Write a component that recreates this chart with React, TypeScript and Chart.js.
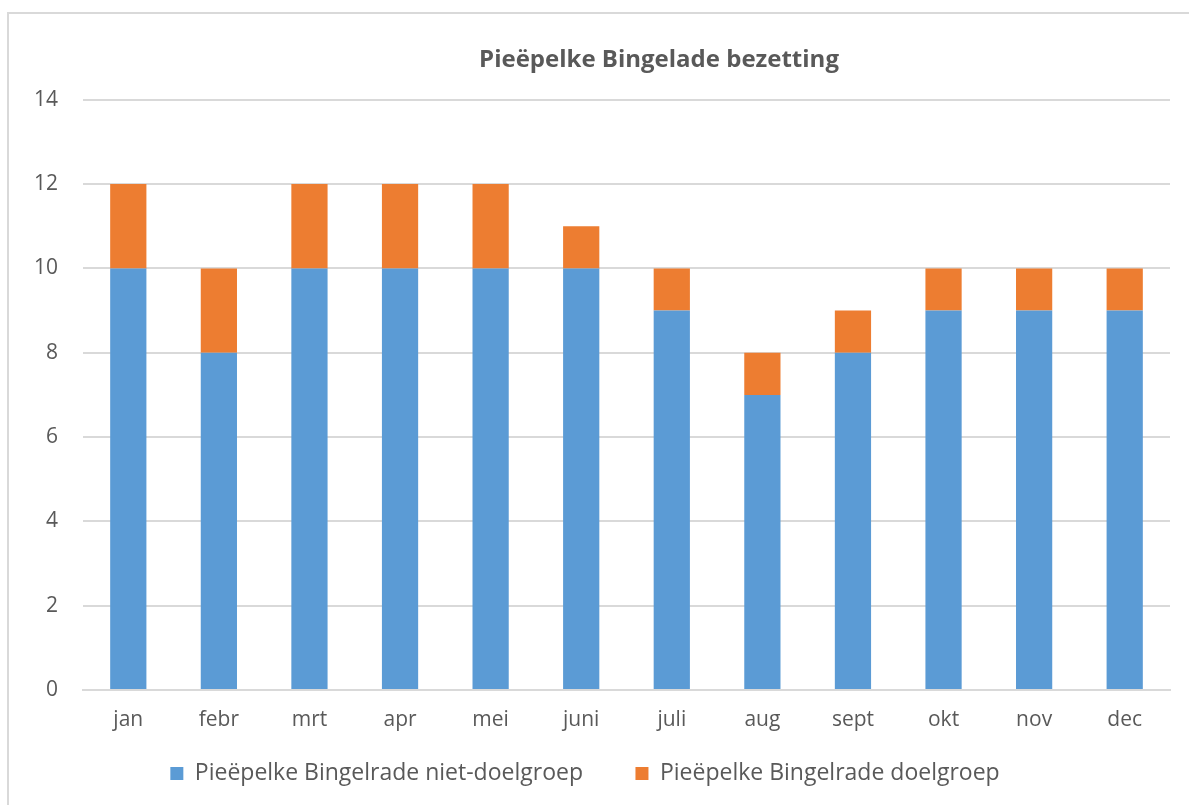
import React, { useEffect, useRef } from "react";
import { Chart, registerables } from "chart.js";

Chart.register(...registerables);

const categories = ["jan", "febr", "mrt", "apr", "mei", "juni", "juli", "aug", "sept", "okt", "nov", "dec"];
const nietDoelgroep = [10, 8, 10, 10, 10, 10, 9, 7, 8, 9, 9, 9];
const doelgroep = [2, 2, 2, 2, 2, 1, 1, 1, 1, 1, 1, 1];
const yTicks = [0, 2, 4, 6, 8, 10, 12, 14];

const W = 1311;
const H = 805;
const TITLE_CENTER = 659;

const titleShift = {
  id: "titleShift",
  afterLayout(chart: any) {
    const t = chart.titleBlock;
    if (!t) return;
    const w = t.right - t.left;
    t.left = TITLE_CENTER - w / 2;
    t.right = TITLE_CENTER + w / 2;
  },
};

export default function App() {
  const ref = useRef<HTMLCanvasElement | null>(null);
  useEffect(() => {
    if (!ref.current) return;
    const grey = "#595959";
    const chart = new Chart(ref.current, {
      type: "bar",
      data: {
        labels: categories,
        datasets: [
          {
            label: "Pieëpelke Bingelrade niet-doelgroep",
            data: nietDoelgroep,
            backgroundColor: "#5B9BD5",
            barPercentage: 0.4,
            categoryPercentage: 1,
          },
          {
            label: "Pieëpelke Bingelrade doelgroep",
            data: doelgroep,
            backgroundColor: "#ED7D31",
            barPercentage: 0.4,
            categoryPercentage: 1,
          },
        ],
      },
      plugins: [titleShift],
      options: {
        animation: false,
        responsive: false,
        maintainAspectRatio: false,
        layout: { padding: { top: 46, left: 0, right: W - 1170, bottom: 10 } },
        plugins: {
          title: {
            display: true,
            text: "Pieëpelke Bingelade bezetting",
            color: grey,
            font: { family: "'Open Sans'", size: 24, weight: "bold" },
            padding: { top: 0, bottom: 25 },
          },
          legend: {
            position: "bottom",
            labels: {
              color: grey,
              font: { family: "'Open Sans'", size: 23 },
              boxWidth: 13,
              boxHeight: 13,
              padding: 14,
              generateLabels: (c: any) => {
                const base = Chart.defaults.plugins.legend.labels.generateLabels(c);
                const out: any[] = [];
                base.forEach((item: any, i: number) => {
                  item.lineWidth = 0;
                  item.strokeStyle = "rgba(0,0,0,0)";
                  if (i > 0) {
                    out.push({
                      text: "",
                      fillStyle: "rgba(0,0,0,0)",
                      strokeStyle: "rgba(0,0,0,0)",
                      lineWidth: 0,
                      hidden: false,
                    });
                  }
                  out.push(item);
                });
                return out;
              },
            },
          },
          tooltip: { enabled: false },
        },
        scales: {
          x: {
            stacked: true,
            grid: { display: false, drawTicks: false },
            border: { color: "#d9d9d9", width: 2 },
            ticks: { color: grey, font: { family: "'Open Sans'", size: 21 }, padding: 17 },
            afterFit: (s: any) => {
              s.height = 58;
            },
          },
          y: {
            stacked: true,
            min: 0,
            max: 14,
            afterBuildTicks: (s: any) => {
              s.ticks = yTicks.map((v) => ({ value: v }));
            },
            grid: { color: "#d9d9d9", lineWidth: 2, drawTicks: false },
            border: { display: false },
            ticks: { color: grey, font: { family: "'Open Sans'", size: 21 }, padding: 25 },
            afterFit: (s: any) => {
              s.width = 83;
            },
          },
        },
      },
    });
    return () => chart.destroy();
  }, []);
  return (
    <div style={{ position: "fixed", left: 0, top: 0, width: 1189, height: 805, background: "#fff", overflow: "hidden" }}>
      <div
        style={{
          position: "absolute",
          left: 7,
          top: 12,
          width: 1400,
          height: 1000,
          border: "2px solid #d9d9d9",
          boxSizing: "border-box",
        }}
      />
      <canvas ref={ref} width={W} height={H} style={{ position: "absolute", left: 0, top: 0, width: W, height: H }} />
    </div>
  );
}
